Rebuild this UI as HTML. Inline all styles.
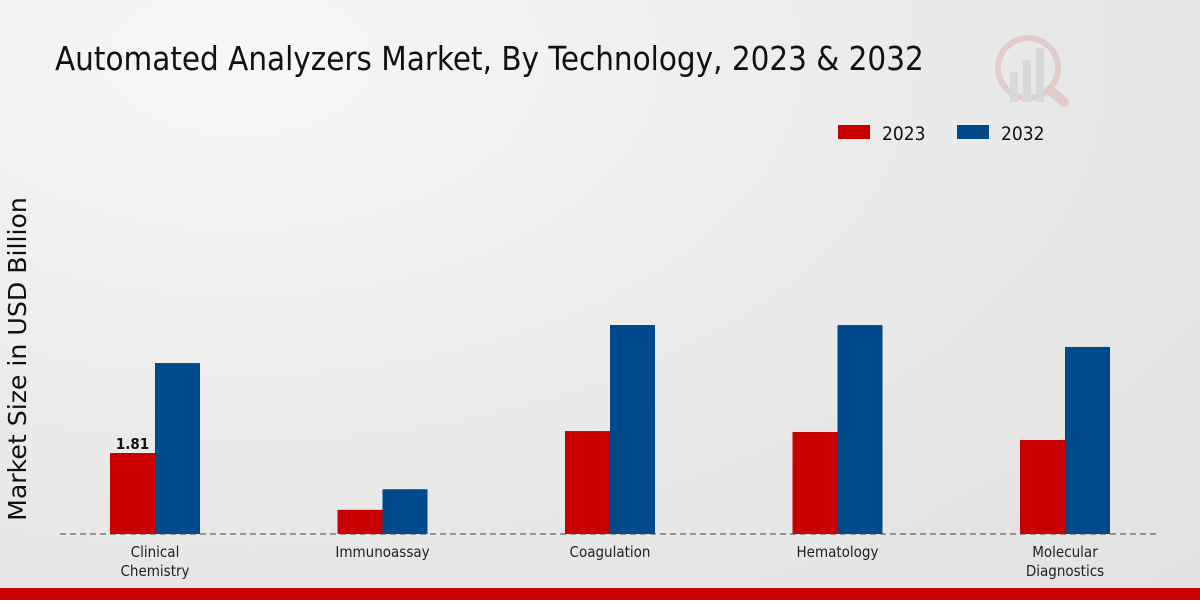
<!DOCTYPE html>
<html><head><meta charset="utf-8"><style>
body{margin:0;width:1200px;height:600px;overflow:hidden;font-family:"DejaVu Sans Condensed","DejaVu Sans","Liberation Sans",sans-serif;}
#wrap{position:relative;width:1200px;height:600px;background:radial-gradient(ellipse at 20% 10%,#f7f7f7 0%,#e8e8e8 60%,#e2e2e2 100%);}
</style></head><body>
<div id="wrap">
<svg id="chart" width="1200" height="600">
<text x="55" y="70" font-size="32.8" fill="#111" style="font-family:'DejaVu Sans Condensed','DejaVu Sans',sans-serif">Automated Analyzers Market, By Technology, 2023 &amp; 2032</text>
<text transform="translate(26,359) rotate(-90)" text-anchor="middle" font-size="25.2" fill="#111" style="font-family:'DejaVu Sans',sans-serif">Market Size in USD Billion</text>
<g>
<rect x="838" y="125" width="32" height="14" fill="#c80000"/>
<text x="882" y="140" font-size="19" fill="#111">2023</text>
<rect x="957" y="125" width="32" height="14" fill="#004a8c"/>
<text x="1001" y="140" font-size="19" fill="#111">2032</text>
</g>
<g opacity="0.5">
<circle cx="1028" cy="68" r="30" fill="none" stroke="#e0b0b0" stroke-width="6"/>
<line x1="1050" y1="90" x2="1064" y2="102" stroke="#e0b0b0" stroke-width="10" stroke-linecap="round"/>
<rect x="1010" y="72" width="8" height="30" fill="#c8c8c8"/><rect x="1023" y="60" width="8" height="42" fill="#c8c8c8"/><rect x="1036" y="48" width="8" height="54" fill="#c8c8c8"/>
</g>
<g id="bars"></g>
<line x1="60" y1="534" x2="1160" y2="534" stroke="#444" stroke-width="1" stroke-dasharray="6,4"/>
<g id="xlabels"></g>
<rect x="0" y="588" width="1200" height="12" fill="#c80000"/>
</svg>
</div>
<script>
const categories=[["Clinical","Chemistry"],["Immunoassay"],["Coagulation"],["Hematology"],["Molecular","Diagnostics"]];
const values2023=[1.81,0.54,2.3,2.28,2.1];
const values2032=[3.82,1.0,4.67,4.67,4.18];
const labeled2023=["1.81",null,null,null,null];
const ns="http://www.w3.org/2000/svg";
const base=534, scale=44.75, x0=155, step=227.5, bw=45;
function y(v){return base-v*scale;}
function xc(i){return x0+i*step;}
const g=document.getElementById('bars'), xl=document.getElementById('xlabels');
categories.forEach((c,i)=>{
  const r1=document.createElementNS(ns,'rect');
  r1.setAttribute('x',xc(i)-bw);r1.setAttribute('y',y(values2023[i]));r1.setAttribute('width',bw);r1.setAttribute('height',base-y(values2023[i]));r1.setAttribute('fill','#c80000');
  
  
  g.appendChild(r1);
  const r2=document.createElementNS(ns,'rect');
  r2.setAttribute('x',xc(i));r2.setAttribute('y',y(values2032[i]));r2.setAttribute('width',bw);r2.setAttribute('height',base-y(values2032[i]));r2.setAttribute('fill','#004a8c');
  
  
  g.appendChild(r2);
  if(labeled2023[i]){
    const t=document.createElementNS(ns,'text');
    t.setAttribute('x',xc(i)-bw/2);t.setAttribute('y',y(values2023[i])-4);t.setAttribute('text-anchor','middle');t.setAttribute('font-size','15');t.setAttribute('font-weight','bold');t.setAttribute('fill','#111');
    t.textContent=labeled2023[i];
    
    
    g.appendChild(t);
  }
  c.forEach((line,j)=>{
    const t=document.createElementNS(ns,'text');
    t.setAttribute('x',xc(i));t.setAttribute('y',557+j*19);t.setAttribute('text-anchor','middle');t.setAttribute('font-size','15');t.setAttribute('fill','#222');
    t.textContent=line;
    
    
    xl.appendChild(t);
  });
});
</script>
</body></html>
